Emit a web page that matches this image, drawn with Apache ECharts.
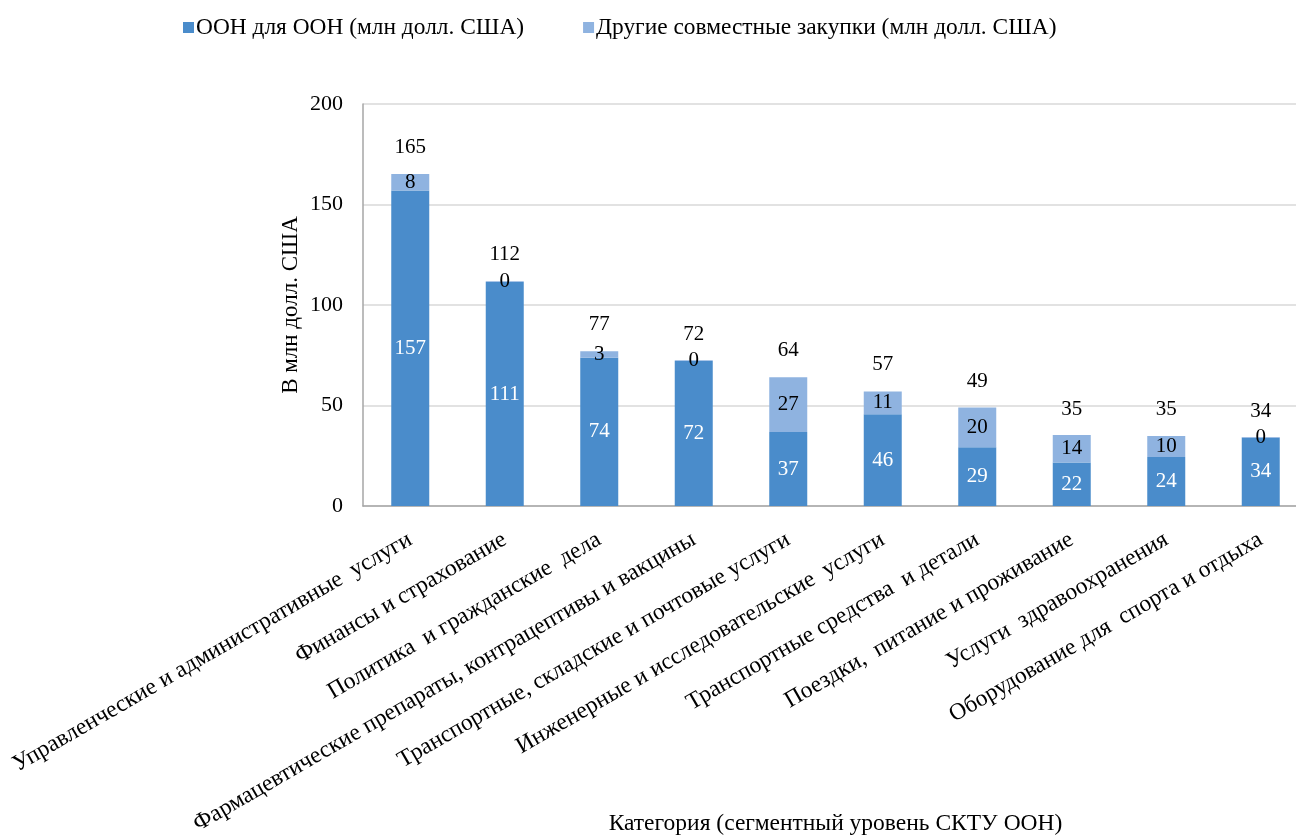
<!DOCTYPE html>
<html><head><meta charset="utf-8">
<script src="https://cdn.jsdelivr.net/npm/echarts@6/dist/echarts.min.js"></script>
<style>html,body{margin:0;padding:0;background:#fff}#c{width:1296px;height:835px}</style>
</head><body><div id="c"></div>
<script>
var categories = [
  "Управленческие и административные  услуги",
  "Финансы и страхование",
  "Политика  и гражданские  дела",
  "Фармацевтические препараты, контрацептивы и вакцины",
  "Транспортные, складские и почтовые услуги",
  "Инженерные и исследовательские  услуги",
  "Транспортные средства  и детали",
  "Поездки,  питание и проживание",
  "Услуги  здравоохранения",
  "Оборудование для  спорта и отдыха"
];
var unForUn = [157.0, 111.4, 73.8, 72.2, 36.8, 45.7, 29.2, 21.6, 24.4, 33.9];
var otherJoint = [8.2, 0.4, 3.2, 0.3, 27.2, 11.3, 19.8, 13.7, 10.4, 0.4];
var totals = [165, 112, 77, 72, 64, 57, 49, 35, 35, 34];
var seriesNames = ["ООН для ООН (млн долл. США)", "Другие совместные закупки (млн долл. США)"];
var yTicks = [0, 50, 100, 150, 200];

var F = "'Liberation Serif','Times New Roman',serif";
var chart = echarts.init(document.getElementById('c'));
chart.setOption({
  animation: false,
  textStyle: {fontFamily: F},
  legend: {
    data: seriesNames, left: 178, top: 11, icon: 'rect', itemWidth: 11, itemHeight: 11, itemGap: 59,
    textStyle: {fontFamily: F, fontSize: 23.4, color: '#000', padding: [0,0,0,-3]}
  },
  grid: {left: 363, width: 945, top: 104, bottom: 329, outerBoundsMode: 'none', containLabel: false},
  xAxis: {
    type: 'category', data: categories,
    axisLine: {lineStyle: {color: '#a6a6a6', width: 1.5}},
    axisTick: {show: false},
    axisLabel: {rotate: 30, interval: 0, margin: 32, fontFamily: F, fontSize: 23.5, color: '#000'},
    name: "Категория (сегментный уровень СКТУ ООН)", nameLocation: 'middle', nameGap: 306,
    nameMoveOverlap: false,
    nameTextStyle: {fontFamily: F, fontSize: 23.5, color: '#000', verticalAlign: 'top'}
  },
  yAxis: {
    type: 'value', min: yTicks[0], max: yTicks[yTicks.length-1], interval: 50,
    axisLine: {show: true, lineStyle: {color: '#a6a6a6', width: 1.5}},
    splitLine: {lineStyle: {color: '#d9d9d9', width: 1.5}},
    axisLabel: {margin: 20, fontFamily: F, fontSize: 22, color: '#000'},
    name: "В млн долл. США", nameLocation: 'middle', nameGap: 61, nameMoveOverlap: false,
    nameTextStyle: {fontFamily: F, fontSize: 23, color: '#000'}
  },
  series: [
    {name: seriesNames[0], type: 'bar', stack: 's', data: unForUn, barWidth: 38,
     itemStyle: {color: '#4a8ccb'},
     label: {show: true, position: 'inside', color: '#fff', fontFamily: F, fontSize: 21,
             formatter: function(p){return Math.round(p.value);}}},
    {name: seriesNames[1], type: 'bar', stack: 's', data: otherJoint, barWidth: 38,
     itemStyle: {color: '#8fb3e0'},
     label: {show: true, position: 'inside', color: '#000', fontFamily: F, fontSize: 21,
             formatter: function(p){return Math.round(p.value);}}},
    {name: 'totals', type: 'scatter', data: totals, symbolSize: 0, silent: true, z: 10,
     itemStyle: {opacity: 1},
     label: {show: true, position: 'top', distance: 16, color: '#000', opacity: 1,
             textBorderWidth: 0, fontFamily: F, fontSize: 21}}
  ]
});
</script></body></html>
